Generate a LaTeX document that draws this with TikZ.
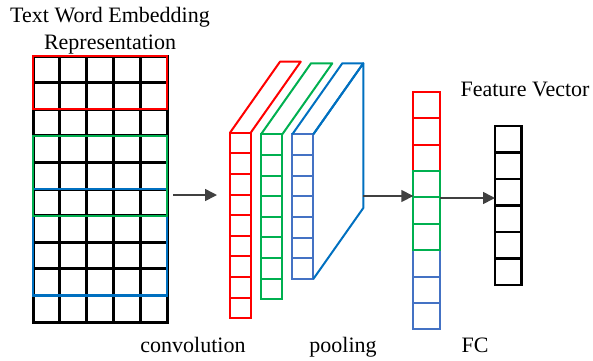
\documentclass[tikz,border=0pt]{standalone}
\usepackage{fontspec}
\setmainfont{Liberation Serif}
\usetikzlibrary{arrows.meta}
\definecolor{cred}{RGB}{255,0,0}
\definecolor{cgreen}{RGB}{0,176,80}
\definecolor{cblue}{RGB}{0,112,192}
\definecolor{cbluecell}{RGB}{68,114,196}
\definecolor{arrowgray}{RGB}{64,64,64}
\begin{document}
\begin{tikzpicture}[x=1pt,y=-1pt,
  lbl/.style={font=\fontsize{22}{26}\selectfont, inner sep=0pt, anchor=base},
  col/.style={draw, line width=2pt, inner sep=0pt, outer sep=0pt, anchor=north west},
  window/.style={line width=2.2pt},
  flow/.style={draw=arrowgray, line width=1.6pt, -{Triangle[length=12pt,width=12pt]}}]
\useasboundingbox (0,0) rectangle (593,360);

% ---- embedding matrix: 10 words x 5 dimensions ----
\node[col, draw=black, line width=3pt, minimum width=134pt, minimum height=266pt] (emb) at (33,56) {};
\foreach \i in {1,...,4}
  \draw[black, line width=3pt] ({33+26.8*\i},56) -- ({33+26.8*\i},322);
\foreach \j in {1,...,9}
  \draw[black, line width=3pt] (33,{56+26.6*\j}) -- (167,{56+26.6*\j});
% filter windows
\draw[cred, window]   (33,56)    rectangle (167,109.2);
\draw[cblue, window]  (33,189)   rectangle (167,295.4);
\draw[cgreen, window] (33,135.8) rectangle (167,215.6);

\node[lbl] (title1) at (110,22) {Text Word Embedding};
\node[lbl] (title2) at (110,49) {Representation};

% ---- convolution feature maps ----
\node[col, draw=cred, minimum width=20.7pt, minimum height=185.4pt] (c1) at (230,132.7) {};
\foreach \j in {1,...,8}
  \draw[cred, line width=2pt] (230,{132.7+20.6*\j}) -- (250.7,{132.7+20.6*\j});
\draw[cred, line width=2pt, line join=round] (c1.north west) -- ++(50,-71) -- ++(20.7,0) -- (c1.north east);

\node[col, draw=cgreen, minimum width=21.3pt, minimum height=165pt] (c2) at (261,134.3) {};
\foreach \j in {1,...,7}
  \draw[cgreen, line width=2pt] (261,{134.3+20.6*\j}) -- (282.3,{134.3+20.6*\j});
\draw[cgreen, line width=2pt, line join=round] (c2.north west) -- ++(50,-71) -- ++(21.3,0) -- (c2.north east);

\node[col, draw=cbluecell, minimum width=21pt, minimum height=144.7pt] (c3) at (292.3,134.3) {};
\foreach \j in {1,...,6}
  \draw[cbluecell, line width=2pt] (292.3,{134.3+20.67*\j}) -- (313.3,{134.3+20.67*\j});
\draw[cblue, line width=2pt, line join=round] (c3.north west) -- ++(50,-71) -- ++(21,0) -- (c3.north east);
\draw[cblue, line width=2pt, line join=round] (c3.north east) -- ++(50,-71) -- ++(0,144.7) -- (c3.south east);
\coordinate (poolout) at (363.3,196);

\node[lbl] (convlbl) at (193,352) {convolution};
\node[lbl] (poollbl) at (343,352) {pooling};

% ---- fully connected (concatenated pooled features) ----
\node[col, draw=cred, minimum width=26.7pt, minimum height=237.6pt] (fc) at (413.3,91.7) {};
\draw[cred, line width=2pt] (413.3,91.7) rectangle (440,170.9);
\draw[cbluecell, line width=2pt] (413.3,250.1) rectangle (440,329.3);
\draw[cgreen, line width=2pt] (413.3,170.9) rectangle (440,250.1);
\foreach \j/\c in {1/cred,2/cred,4/cgreen,5/cgreen,7/cbluecell,8/cbluecell}
  \draw[\c, line width=2pt] (413.3,{91.7+26.4*\j}) -- (440,{91.7+26.4*\j});
\node[lbl] (fclbl) at (475,352.7) {FC};

% ---- output feature vector ----
\node[col, draw=black, line width=2.6pt, minimum width=26.7pt, minimum height=159pt] (fv) at (495,126) {};
\foreach \j in {1,...,5}
  \draw[black, line width=2.6pt] (495,{126+26.5*\j}) -- (521.7,{126+26.5*\j});
\node[lbl] (fvlbl) at (525,96.7) {Feature Vector};

% ---- connectors ----
\draw[flow, shorten <=6pt, shorten >=13pt] ([yshift=-6pt]emb.east) -- ([yshift=-6pt]emb.east -| c1.west);
\draw[flow] (poolout) -- (poolout -| fc.west);
\draw[flow] ([yshift=12.5pt]fc.east) -- ([yshift=12.5pt]fc.east -| fv.west);
\end{tikzpicture}
\end{document}
